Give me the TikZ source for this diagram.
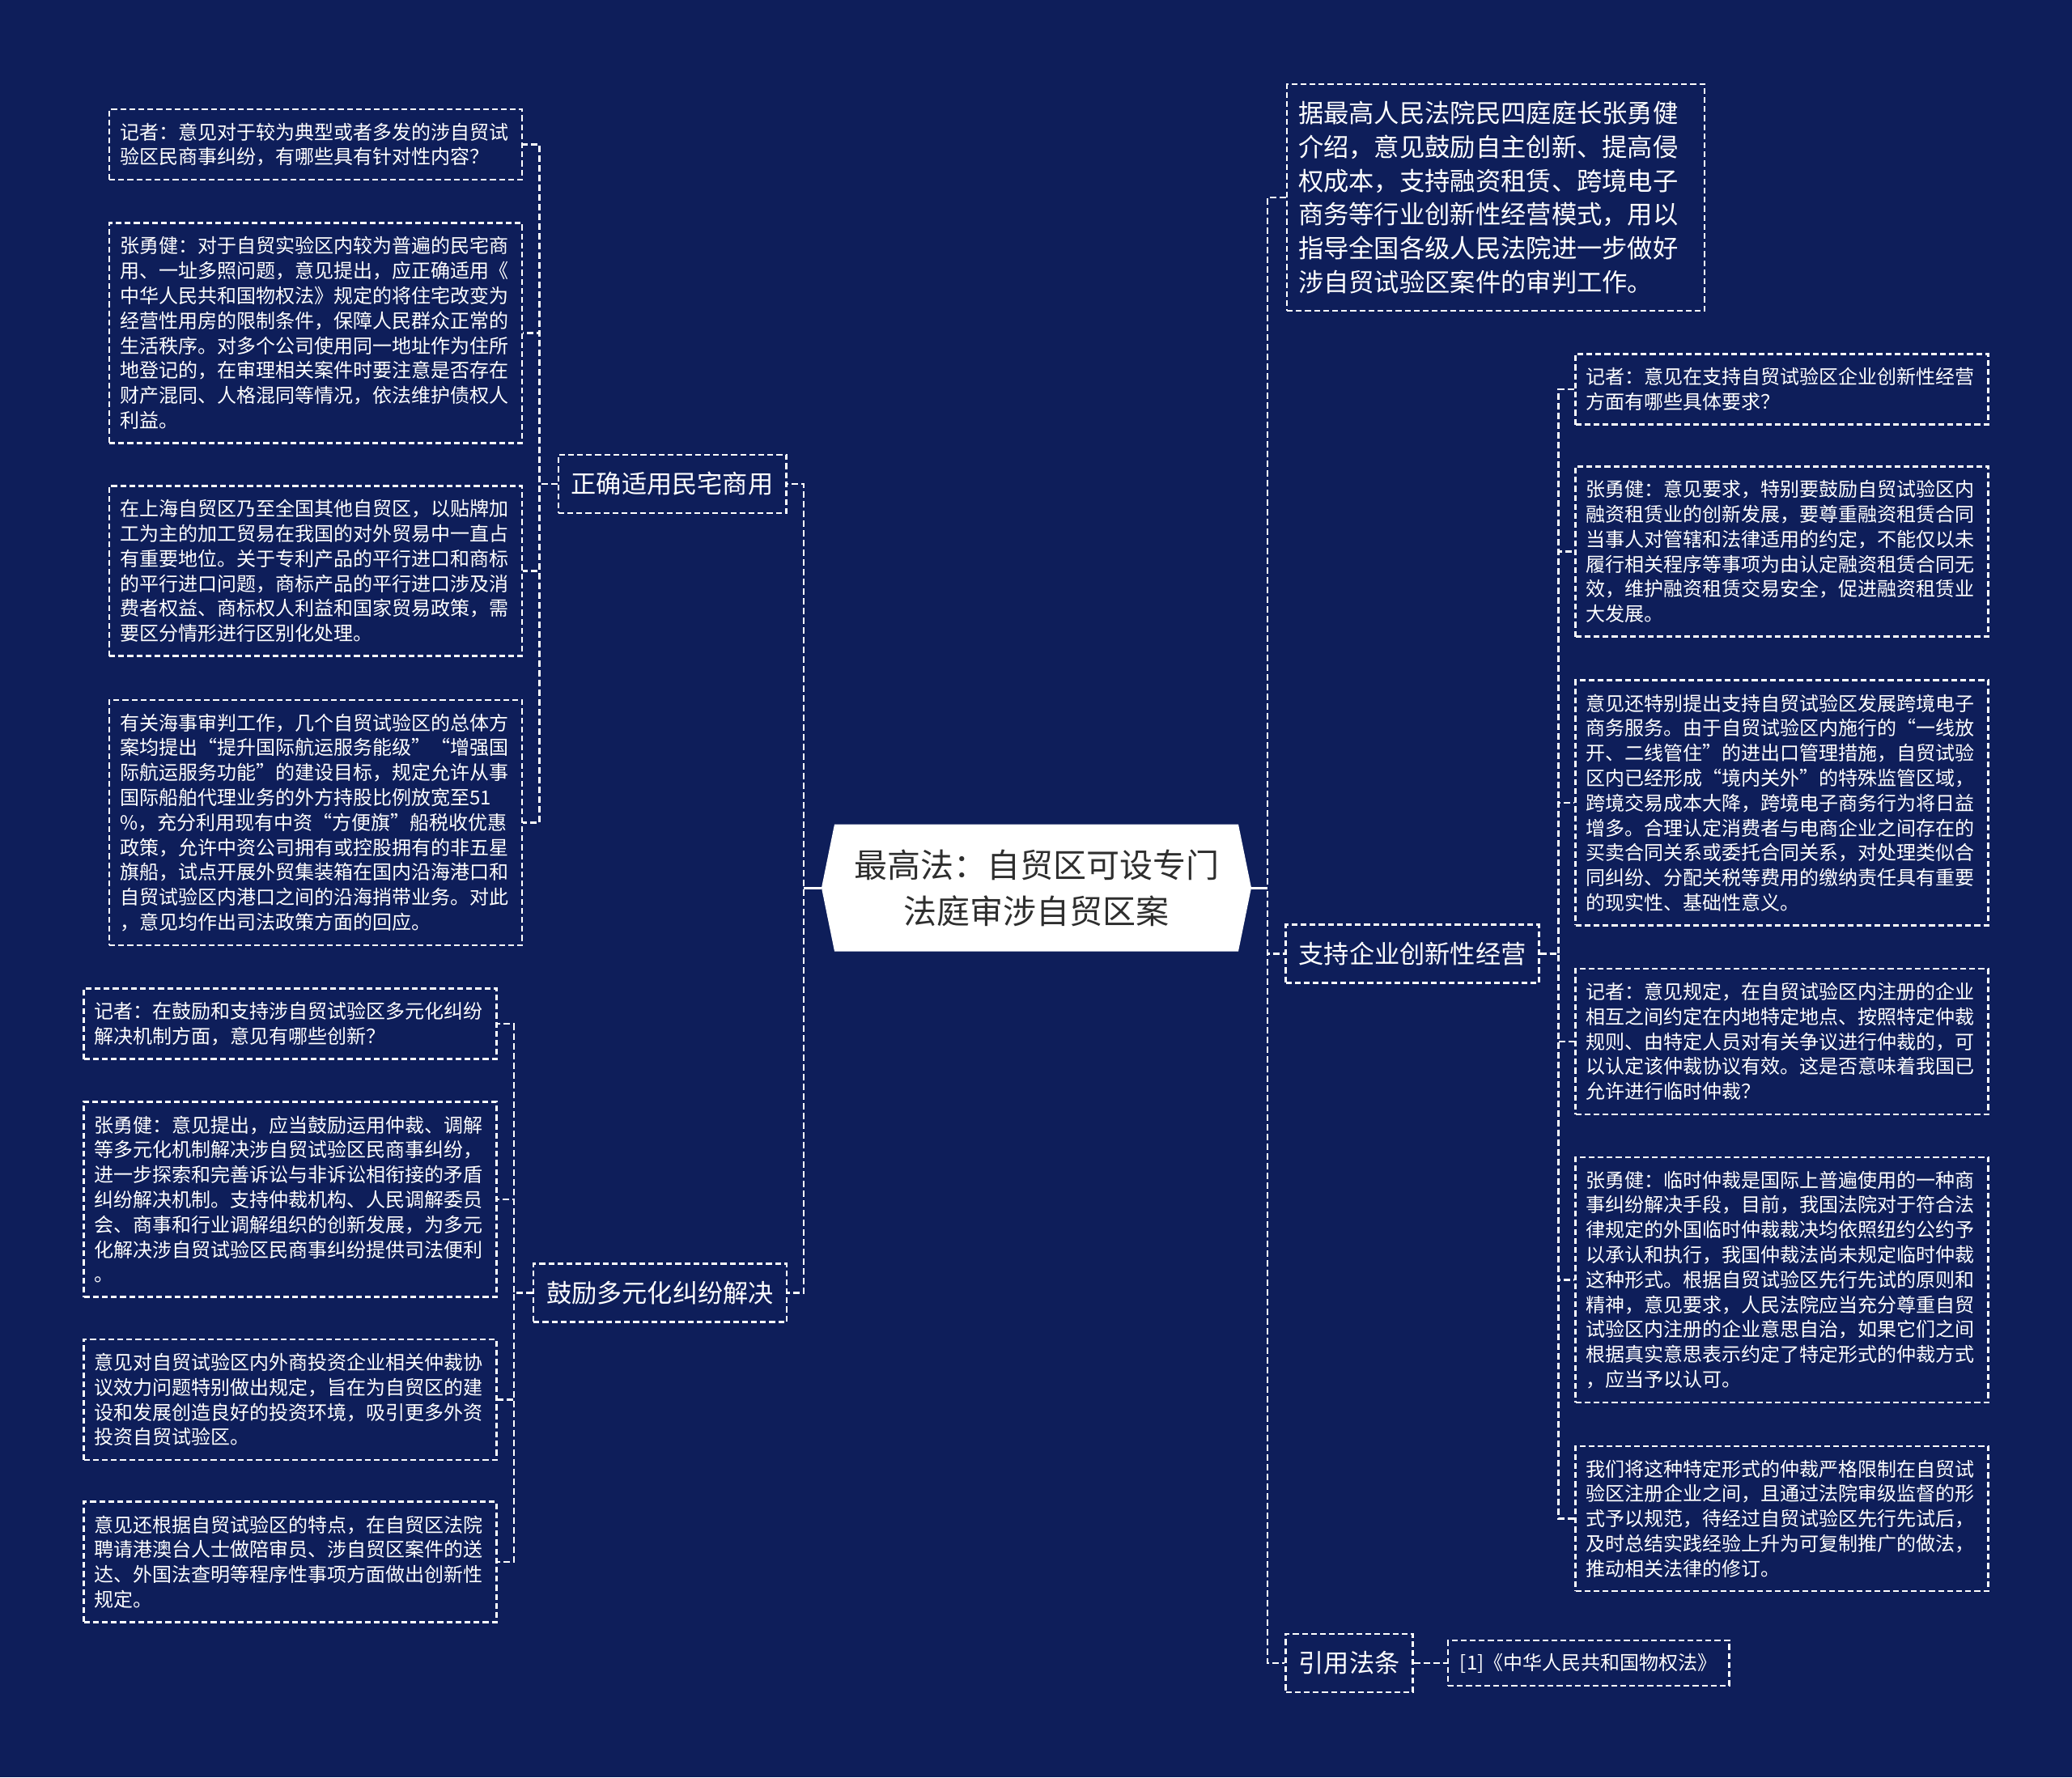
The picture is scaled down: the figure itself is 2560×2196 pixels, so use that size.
\documentclass[tikz,border=0pt]{standalone}
\usepackage{fontspec}
\setmainfont{Noto Sans CJK SC}
\XeTeXlinebreaklocale "zh"
\usetikzlibrary{backgrounds}
\definecolor{bgnavy}{HTML}{0E1E5A}
\definecolor{ctext}{HTML}{2E2E2E}
\tikzset{
  dashbox/.style={draw=white, line width=1.2pt, dash pattern=on 3.6pt off 2pt},
  leaf/.style={dashbox, text=white, font=\fontsize{12pt}{15.4pt}\selectfont,
    align=left, text width=242pt, inner xsep=6.5pt, inner ysep=3pt},
  nl/.style={minimum height=#1*15.4pt+12.75pt},
  branch/.style={dashbox, text=white, font=\fontsize{15.6pt}{18pt}\selectfont,
    inner xsep=8pt, inner ysep=2pt, minimum height=36pt},
  intro/.style={dashbox, text=white, font=\fontsize{15.65pt}{20.85pt}\selectfont,
    align=left, text width=244pt, inner xsep=7pt, inner ysep=3pt, minimum height=140pt},
  refbox/.style={dashbox, text=white, font=\fontsize{12pt}{15pt}\selectfont,
    inner xsep=7.5pt, inner ysep=2pt, minimum height=28pt},
  centre/.style={text=ctext, font=\fontsize{20.5pt}{28.5pt}\selectfont, align=center,
    minimum width=265.5pt, minimum height=78.5pt, inner sep=0pt, outer sep=0pt},
  conn/.style={draw=white, line width=1.2pt, dash pattern=on 4pt off 2pt},
  bar/.style={draw=white, line width=1.5pt}
}
\begin{document}
\begin{tikzpicture}[x=0.5pt,y=-0.5pt]
\useasboundingbox (0,0) rectangle (2560,2196);

% central topic
\node[centre] (c) at (1280.5,1097) {最高法：自贸区可设专门\\法庭审涉自贸区案};

% left branch 1
\node[branch] (b1) at (830.5,598) {正确适用民宅商用};
\node[leaf,nl=2] (L1) at (390,178.5) {记者：意见对于较为典型或者多发的涉自贸试\\验区民商事纠纷，有哪些具有针对性内容？};
\node[leaf,nl=8] (L2) at (390,411.5) {张勇健：对于自贸实验区内较为普遍的民宅商\\用、一址多照问题，意见提出，应正确适用《\\中华人民共和国物权法》规定的将住宅改变为\\经营性用房的限制条件，保障人民群众正常的\\生活秩序。对多个公司使用同一地址作为住所\\地登记的，在审理相关案件时要注意是否存在\\财产混同、人格混同等情况，依法维护债权人\\利益。};
\node[leaf,nl=6] (L3) at (390,705.5) {在上海自贸区乃至全国其他自贸区，以贴牌加\\工为主的加工贸易在我国的对外贸易中一直占\\有重要地位。关于专利产品的平行进口和商标\\的平行进口问题，商标产品的平行进口涉及消\\费者权益、商标权人利益和国家贸易政策，需\\要区分情形进行区别化处理。};
\node[leaf,nl=9] (L4) at (390,1016.5) {有关海事审判工作，几个自贸试验区的总体方\\案均提出“提升国际航运服务能级”“增强国\\际航运服务功能”的建设目标，规定允许从事\\国际船舶代理业务的外方持股比例放宽至51\\\%，充分利用现有中资“方便旗”船税收优惠\\政策，允许中资公司拥有或控股拥有的非五星\\旗船，试点开展外贸集装箱在国内沿海港口和\\自贸试验区内港口之间的沿海捎带业务。对此\\，意见均作出司法政策方面的回应。};

% left branch 2
\node[branch] (b2) at (815.5,1597.5) {鼓励多元化纠纷解决};
\node[leaf,nl=2] (M1) at (358.5,1265) {记者：在鼓励和支持涉自贸试验区多元化纠纷\\解决机制方面，意见有哪些创新？};
\node[leaf,nl=7] (M2) at (358.5,1482) {张勇健：意见提出，应当鼓励运用仲裁、调解\\等多元化机制解决涉自贸试验区民商事纠纷，\\进一步探索和完善诉讼与非诉讼相衔接的矛盾\\纠纷解决机制。支持仲裁机构、人民调解委员\\会、商事和行业调解组织的创新发展，为多元\\化解决涉自贸试验区民商事纠纷提供司法便利\\。};
\node[leaf,nl=4] (M3) at (358.5,1729.5) {意见对自贸试验区内外商投资企业相关仲裁协\\议效力问题特别做出规定，旨在为自贸区的建\\设和发展创造良好的投资环境，吸引更多外资\\投资自贸试验区。};
\node[leaf,nl=4] (M4) at (358.5,1930) {意见还根据自贸试验区的特点，在自贸区法院\\聘请港澳台人士做陪审员、涉自贸区案件的送\\达、外国法查明等程序性事项方面做出创新性\\规定。};

% right side
\node[intro] (r0) at (1848,244) {据最高人民法院民四庭庭长张勇健\\介绍，意见鼓励自主创新、提高侵\\权成本，支持融资租赁、跨境电子\\商务等行业创新性经营模式，用以\\指导全国各级人民法院进一步做好\\涉自贸试验区案件的审判工作。};

\node[branch] (b3) at (1745,1178.5) {支持企业创新性经营};
\node[leaf,nl=2] (S1) at (2201.5,481) {记者：意见在支持自贸试验区企业创新性经营\\方面有哪些具体要求？};
\node[leaf,nl=6] (S2) at (2201.5,681.5) {张勇健：意见要求，特别要鼓励自贸试验区内\\融资租赁业的创新发展，要尊重融资租赁合同\\当事人对管辖和法律适用的约定，不能仅以未\\履行相关程序等事项为由认定融资租赁合同无\\效，维护融资租赁交易安全，促进融资租赁业\\大发展。};
\node[leaf,nl=9] (S3) at (2201.5,992) {意见还特别提出支持自贸试验区发展跨境电子\\商务服务。由于自贸试验区内施行的“一线放\\开、二线管住”的进出口管理措施，自贸试验\\区内已经形成“境内关外”的特殊监管区域，\\跨境交易成本大降，跨境电子商务行为将日益\\增多。合理认定消费者与电商企业之间存在的\\买卖合同关系或委托合同关系，对处理类似合\\同纠纷、分配关税等费用的缴纳责任具有重要\\的现实性、基础性意义。};
\node[leaf,nl=5] (S4) at (2201.5,1287) {记者：意见规定，在自贸试验区内注册的企业\\相互之间约定在内地特定地点、按照特定仲裁\\规则、由特定人员对有关争议进行仲裁的，可\\以认定该仲裁协议有效。这是否意味着我国已\\允许进行临时仲裁？};
\node[leaf,nl=9] (S5) at (2201.5,1581.5) {张勇健：临时仲裁是国际上普遍使用的一种商\\事纠纷解决手段，目前，我国法院对于符合法\\律规定的外国临时仲裁裁决均依照纽约公约予\\以承认和执行，我国仲裁法尚未规定临时仲裁\\这种形式。根据自贸试验区先行先试的原则和\\精神，意见要求，人民法院应当充分尊重自贸\\试验区内注册的企业意思自治，如果它们之间\\根据真实意思表示约定了特定形式的仲裁方式\\，应当予以认可。};
\node[leaf,nl=5] (S6) at (2201.5,1876.5) {我们将这种特定形式的仲裁严格限制在自贸试\\验区注册企业之间，且通过法院审级监督的形\\式予以规范，待经过自贸试验区先行先试后，\\及时总结实践经验上升为可复制推广的做法，\\推动相关法律的修订。};

\node[branch] (b4) at (1667,2055) {引用法条};
\node[refbox] (ref) at (1962.75,2055) {[1]《中华人民共和国物权法》};

% connectors
\foreach \n in {b1,b2} \draw[conn] (c.west) -- ++(-22,0) |- (\n.east);
\foreach \n in {r0,b3,b4} \draw[conn] (c.east) -- ++(20,0) |- (\n.west);
\foreach \n in {L1,L2,L3,L4} \draw[conn] (b1.west) -- ++(-22,0) |- (\n.east);
\foreach \n in {M1,M2,M3,M4} \draw[conn] (b2.west) -- ++(-23,0) |- (\n.east);
\foreach \n in {S1,S2,S3,S4,S5,S6} \draw[conn] (b3.east) -- ++(23,0) |- (\n.west);
\draw[conn] (b4.east) -- (ref.west);
\draw[bar] (c.west) -- ++(-22,0);
\draw[bar] (c.east) -- ++(20,0);

\begin{scope}[on background layer]
\fill[bgnavy] (0,0) rectangle (2560,2196);
\fill[white] (c.west) -- ([xshift=8pt]c.north west) -- ([xshift=-8pt]c.north east) -- (c.east)
  -- ([xshift=-8pt]c.south east) -- ([xshift=8pt]c.south west) -- cycle;
\end{scope}
\end{tikzpicture}
\end{document}
